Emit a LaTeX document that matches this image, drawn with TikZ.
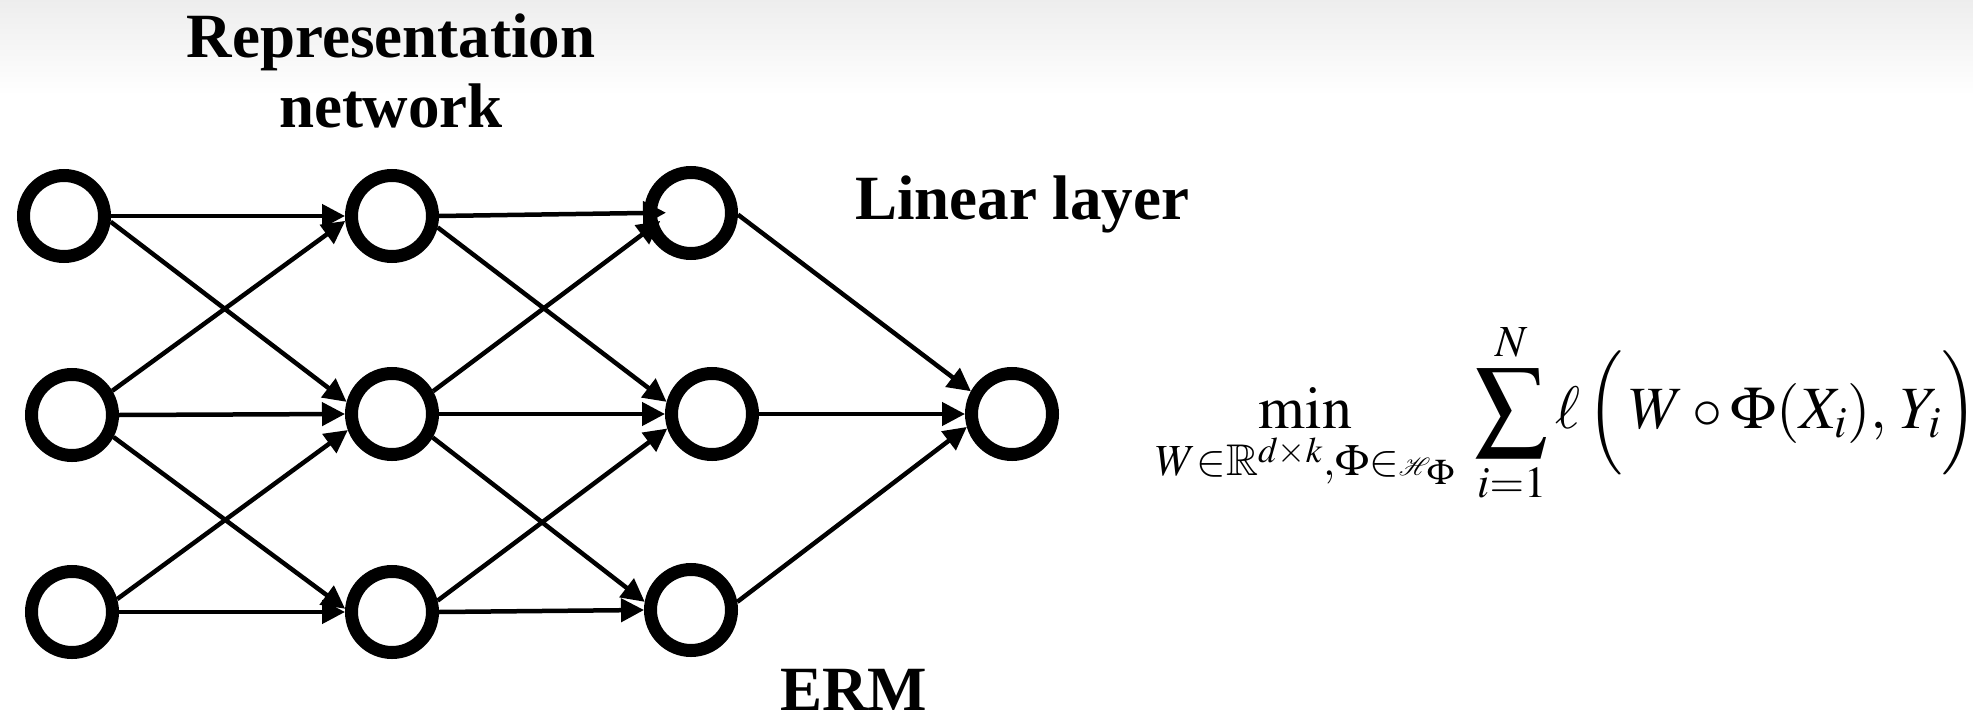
\documentclass[tikz,border=0pt]{standalone}
\usepackage{graphicx}
\usepackage{amsmath,amssymb,mathrsfs}
\usepackage{mathptmx}
\usepackage[no-math]{fontspec}
\setmainfont{Liberation Serif}
\usetikzlibrary{arrows.meta}

% a slightly enlarged summation sign and a taller round bracket pair
\newcommand{\bigsum}{\mathop{\vcenter{\hbox{\scalebox{1.2}{$\displaystyle\sum$}}}}\limits}
\newcommand{\tallopen}{\mathopen{\vcenter{\hbox{\scalebox{1}[1.15]{$\Big($}}}}}
\newcommand{\tallclose}{\mathclose{\vcenter{\hbox{\scalebox{1}[1.15]{$\Big)$}}}}}

\tikzset{
  neuron/.style={circle, draw=black, line width=13pt, minimum size=81pt, inner sep=0pt, fill=white},
  edge/.style={line width=4.5pt, -{Triangle[length=23pt,width=23pt]}},
  caption/.style={font=\fontsize{63}{70}\selectfont\bfseries, inner sep=0pt},
  formula/.style={font=\fontsize{60}{72}\selectfont, inner sep=0pt}
}

\begin{document}
\begin{tikzpicture}[x=1pt, y=-1pt]
  % page frame and the soft grey band along the top edge
  \useasboundingbox (0,0) rectangle (1973,717);
  \fill[white] (0,0) rectangle (1973,717);
  \shade[top color=black!7, bottom color=white] (0,0) rectangle (1973,95);

  % input layer
  \node[neuron] (A1) at (64,216) {};
  \node[neuron] (A2) at (72,415) {};
  \node[neuron] (A3) at (72,612) {};
  % hidden layer
  \node[neuron] (B1) at (392,216) {};
  \node[neuron] (B2) at (392,414) {};
  \node[neuron] (B3) at (392,612) {};
  % representation layer
  \node[neuron] (C1) at (691,213) {};
  \node[neuron] (C2) at (712,414) {};
  \node[neuron] (C3) at (691,610) {};
  % output
  \node[neuron] (D) at (1012,414) {};

  % input -> hidden
  \draw[edge] (A1.east) -- (B1.west);
  \draw[edge] (A1.-7) -- (B2.165);
  \draw[edge] (A2.31) -- (B1.-174);
  \draw[edge] (A2.east) -- (B2.west);
  \draw[edge] (A2.-28) -- (B3.176);
  \draw[edge] (A3.16) -- (B2.-160);
  \draw[edge] (A3.east) -- (B3.west);
  % hidden -> representation
  \draw[edge, shorten >=-22pt] (B1.east) -- (C1.west);
  \draw[edge] (B1.-14) -- (C2.165);
  \draw[edge, shorten >=-16pt] (B2.29) -- (C1.-158);
  \draw[edge] (B2.east) -- (C2.west);
  \draw[edge] (B2.-30) -- (C3.170);
  \draw[edge] (B3.14) -- (C2.-162);
  \draw[edge] (B3.east) -- (C3.west);
  % linear layer
  \draw[edge] (C1.-2) -- (D.151);
  \draw[edge] (C2.east) -- (D.west);
  \draw[edge] (C3.10) -- (D.-164);

  % labels
  \node[caption, align=center, anchor=north] (rep) at (391,14) {Representation\\network};
  \node[caption, anchor=base west] (lin) at (855,219) {Linear layer};
  \node[caption, anchor=base west] (erm) at (780,710) {ERM};

  % training objective
  \node[formula, anchor=base west] (obj) at (1156,428)
    {$\displaystyle \min_{W\in\mathbb{R}^{d\times k},\Phi\in\mathscr{H}_{\,\Phi}}
      \mkern4mu\bigsum_{i=1}^{N}\ell\,\tallopen\,W\circ\Phi(X_i),\,Y_i\tallclose$};
\end{tikzpicture}
\end{document}
